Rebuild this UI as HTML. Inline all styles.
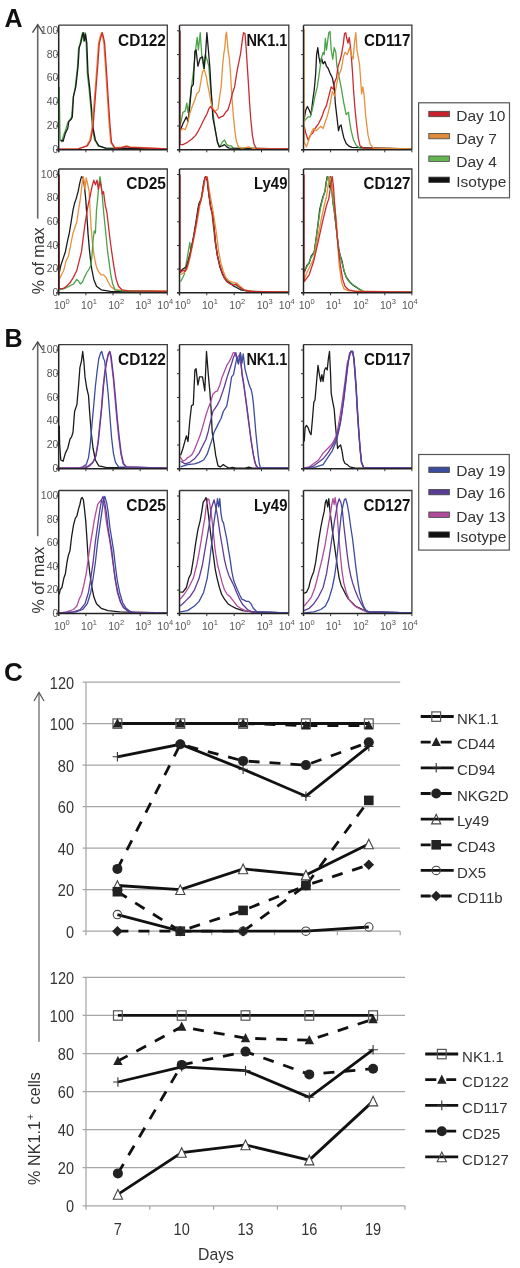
<!DOCTYPE html><html><head><meta charset="utf-8"><style>html,body{margin:0;padding:0;background:#fff}svg{display:block;filter:blur(0.4px)}text{font-family:"Liberation Sans", sans-serif}</style></head><body>
<svg width="520" height="1268" viewBox="0 0 520 1268" font-family='"Liberation Sans", sans-serif'>
<rect width="520" height="1268" fill="#fff"/>
<defs>
<clipPath id="cpA1"><rect x="58.7" y="25.2" width="108.6" height="124.6"/></clipPath>
<clipPath id="cpA2"><rect x="179.5" y="25.2" width="109.3" height="124.6"/></clipPath>
<clipPath id="cpA3"><rect x="303.5" y="25.2" width="108.4" height="124.6"/></clipPath>
<clipPath id="cpA4"><rect x="58.7" y="169" width="108.6" height="123.8"/></clipPath>
<clipPath id="cpA5"><rect x="179.5" y="169" width="109.3" height="123.8"/></clipPath>
<clipPath id="cpA6"><rect x="303.5" y="169" width="108.4" height="123.8"/></clipPath>
<clipPath id="cpB1"><rect x="58.7" y="344.6" width="108.6" height="124.1"/></clipPath>
<clipPath id="cpB2"><rect x="179.5" y="344.6" width="109.3" height="124.1"/></clipPath>
<clipPath id="cpB3"><rect x="303.5" y="344.6" width="108.4" height="124.1"/></clipPath>
<clipPath id="cpB4"><rect x="58.7" y="490.5" width="108.6" height="123.1"/></clipPath>
<clipPath id="cpB5"><rect x="179.5" y="490.5" width="109.3" height="123.1"/></clipPath>
<clipPath id="cpB6"><rect x="303.5" y="490.5" width="108.4" height="123.1"/></clipPath>
</defs>
<text x="4.5" y="26.8" font-weight="bold" font-size="25" fill="#111">A</text>
<path d="M37.7 24.6V218.6" stroke="#666" stroke-width="1.6"/>
<path d="M32.5 32.6L37.7 24.6L42.9 32.6" fill="none" stroke="#444" stroke-width="1.3"/>
<text transform="translate(44.3 260.8) rotate(-90)" text-anchor="middle" font-size="16" fill="#333">% of max</text>
<g clip-path="url(#cpA1)" fill="none" stroke-width="1.3" stroke-linejoin="round">
<polyline stroke="#4aa348" points="59.3,86.9 59.3,96.2 60.1,140 61.9,141.8 63.5,135.4 65.8,129.6 67.7,122.7 70,119.7 71.6,116.9 73.2,97.3 75.1,88.1 77.4,67.3 78.5,48.8 80.2,43.1 81.5,36.6 82.5,32.7 83.6,41.2 85,32.7 86.2,43.1 87.3,73.5 88.9,87.4 90.8,107.7 92.4,128.5 94.7,140 98.2,145.8 105.1,148.1 167.3,148.8"/>
<polyline stroke="#1a1a1a" points="60.8,140 63.1,141.2 65.4,133.1 67.7,128.5 68.8,121.5 71.2,119.2 72.3,116.9 73.5,96.2 75.8,86.9 78.1,66.2 79.2,47.7 80.8,43.1 82.2,36.2 83.2,32.7 84.5,40.8 85.5,33.8 86.8,43.1 88,73.1 89.6,86.9 91.5,107.7 93.1,128.5 95.4,140 98.8,145.8 105.8,148.1 167.3,148.8"/>
<polyline stroke="#e8903c" points="59.3,149.2 78.1,148.8 86.3,146 89.7,140.5 92.3,126.6 94.6,96.6 96.9,66.6 98.5,43.5 100.3,36.2 101.5,32.7 102.7,37.3 103.8,43.1 105.4,66.2 107.3,96.2 109.1,123.8 110.7,142.3 114,147.6 121.3,147.2 126.5,146 130,146.9 167.3,148.8"/>
<polyline stroke="#cc2a30" points="59.3,149.2 78.1,148.8 87.3,145.8 90.8,140 93.1,126.2 95.4,96.2 97.7,66.2 99.3,43.1 101.2,36.2 102.3,32.7 103.5,37.3 104.6,43.1 106.2,66.2 108.1,96.2 109.9,123.8 111.5,142.3 115,148.1 121.9,147.6 126.5,146.5 130,147.4 167.3,148.8"/>
</g>
<path d="M58.7 25.2H167.3V149.8" fill="none" stroke="#3a3a3a" stroke-width="1.3"/>
<path d="M58.7 25.2V152.3M56.2 149.8H167.3" fill="none" stroke="#222" stroke-width="1.5"/>
<path d="M56.2 149.8H58.7M56.2 126H58.7M56.2 102.2H58.7M56.2 78.4H58.7M56.2 54.6H58.7M56.2 30.8H58.7M58.7 149.8V152.3M85.9 149.8V152.3M113 149.8V152.3M140.2 149.8V152.3M167.3 149.8V152.3" stroke="#333" stroke-width="1"/>
<text x="165.9" y="45.6" text-anchor="end" font-weight="bold" font-size="16" textLength="47.8" lengthAdjust="spacingAndGlyphs" fill="#111">CD122</text>
<text x="58.4" y="152.8" text-anchor="end" font-size="10.5" fill="#555">0</text>
<text x="58.4" y="129" text-anchor="end" font-size="10.5" fill="#555">20</text>
<text x="58.4" y="105.2" text-anchor="end" font-size="10.5" fill="#555">40</text>
<text x="58.4" y="81.4" text-anchor="end" font-size="10.5" fill="#555">60</text>
<text x="58.4" y="57.6" text-anchor="end" font-size="10.5" fill="#555">80</text>
<text x="58.4" y="33.8" text-anchor="end" font-size="10.5" fill="#555">100</text>
<g clip-path="url(#cpA2)" fill="none" stroke-width="1.3" stroke-linejoin="round">
<polyline stroke="#4aa348" points="180.2,121.5 180.6,123.8 182.9,112.3 185.2,111.2 186.8,103.1 188,112.3 189.8,100.8 191.5,86.9 193.8,68.5 195.6,50 197.2,37.3 198.4,50 200.2,32.7 201.8,55.8 203.7,68.5 205.3,54.6 206.9,59.2 208.8,66.2 210.6,89.2 212.9,112.3 215.2,129.6 217.5,142.3 219.8,146.9 222.2,142.3 224.5,140 226.8,144.6 229.1,145.8 231.2,145.8 233.5,148.1 288.4,148.8"/>
<polyline stroke="#1a1a1a" points="180.6,129.6 182.9,123.8 186.4,116.9 188,121.5 189.8,106.5 191.5,86.9 193.3,84.6 194.9,51.2 196.1,50 197.9,66.2 200.2,58.1 202.5,56.9 204.2,68.5 205.5,54.6 206.9,32.7 208.3,48.8 209.9,68.5 211.1,89.2 212.9,118.1 215.2,129.6 217.5,142.3 219.2,146.9 222.2,145.8 224.5,144.6 226.8,146.9 229.1,148.1 288.4,148.8"/>
<polyline stroke="#e8903c" points="180.2,130.8 182.9,128.5 185.2,129.6 187.5,123.8 189.8,113.5 192.2,106.5 194.5,100.8 196.8,93.8 199.1,91.5 200.7,82.3 202.5,71.9 204.2,69.6 206,75.4 207.6,84.6 209.5,93.8 211.1,103.1 212.9,108.8 215.2,111.2 218,109.1 219.6,96.8 221.2,86.5 222.6,65.9 223.8,53.7 224.7,48.6 225.8,35.2 226.5,32.2 227.2,40.3 228.2,51.6 229.3,57.8 230.5,73.1 231.4,88.5 232.5,104.9 233.5,117.4 235.1,132.6 236.5,141.8 238.5,146.9 241.5,148.1 245.2,147.6 248.5,146.9 253.1,148.5 288.4,148.8"/>
<polyline stroke="#cc2a30" points="180.1,30.4 180.1,144.6 180.6,144.6 182.9,144.6 187.5,142.3 192.2,138.8 195.6,135.4 198.4,130.8 200.7,126.2 203,121.5 205.3,116.9 207.2,113.5 208.8,108.8 210.6,106.5 212.2,108.8 214.1,111.2 216.4,113.5 218.7,118.1 221,116.9 223.3,115.8 225.6,112.3 227.9,110 230,103.1 232.3,93.8 234.6,86.9 236.9,71.9 238.5,63.8 240.4,54.6 241.5,46.5 242.7,37.3 243.6,32.7 245,33.8 246.2,48.8 247.3,66.2 248.5,84.6 249.6,103.1 250.8,119.2 252.4,135.4 254.2,144.6 256.5,148.8 288.4,148.8"/>
</g>
<path d="M179.5 25.2H288.8V149.8" fill="none" stroke="#3a3a3a" stroke-width="1.3"/>
<path d="M179.5 25.2V152.3M177 149.8H288.8" fill="none" stroke="#222" stroke-width="1.5"/>
<path d="M177 149.8H179.5M177 126H179.5M177 102.2H179.5M177 78.4H179.5M177 54.6H179.5M177 30.8H179.5M179.5 149.8V152.3M206.8 149.8V152.3M234.2 149.8V152.3M261.5 149.8V152.3M288.8 149.8V152.3" stroke="#333" stroke-width="1"/>
<text x="287.4" y="45.6" text-anchor="end" font-weight="bold" font-size="16" textLength="41" lengthAdjust="spacingAndGlyphs" fill="#111">NK1.1</text>
<g clip-path="url(#cpA3)" fill="none" stroke-width="1.3" stroke-linejoin="round">
<polyline stroke="#1a1a1a" points="304.2,119.2 305.8,110 307.4,106.5 309.2,110 311.1,114.6 312.7,100.8 314.3,89.2 315.7,73.1 316.6,54.6 317.8,47.7 318.9,56.9 320.3,63.8 321.5,58.1 323.1,63.8 324.9,61.5 326.5,66.2 328.2,68.5 330,73.1 332.3,77.7 334.2,86.9 335.3,103.1 336.9,116.9 338.5,130.8 339.7,126.2 341.1,125 342.2,130.8 343.8,137.7 346.2,143.5 348.5,145.8 351.9,147.4 411.9,148.8"/>
<polyline stroke="#4aa348" points="304.2,121.5 305.8,119.2 308.1,116.9 310.4,116.9 312.7,107.7 315,96.2 317.3,86.9 319.6,70.8 321.2,59.2 323.1,52.3 324.2,54.6 325.4,38.5 326.5,50 327.7,40.8 328.8,32.7 330,31.5 331.2,50 332.8,59.2 334.2,47.7 335.8,52.3 336.9,66.2 339.2,77.7 341.5,89.2 343.8,103.1 346.2,114.6 348.5,112.3 349.6,121.5 351.2,130.8 353.5,140 356.5,145.8 360,148.1 411.9,148.8"/>
<polyline stroke="#cc2a30" points="304.2,126.2 305.8,133.1 308.1,140 310.4,135.4 312.7,133.1 315,128.5 318.5,123.8 321.9,116.9 324.2,110 326.5,105.4 328.8,96.2 331.2,86.9 333.5,89.2 334.6,82.3 336.5,77.7 338.1,66.2 339.7,61.5 341.5,54.6 343.4,43.1 344.5,33.8 345.7,32.7 346.8,38.5 348,43.1 349.2,37.3 350.3,45.4 351.2,54.6 352.4,70.8 353.5,89.2 354.9,107.7 356.5,123.8 358.2,137.7 360,145.8 363.5,148.1 411.9,148.8"/>
<polyline stroke="#e8903c" points="304.1,29.2 304.1,142.3 304.2,142.3 306.5,146.9 308.8,140 311.1,133.1 313.4,128.5 316.2,130.8 318.5,128.5 320.8,126.2 323.1,128.5 325.4,121.5 327.7,114.6 330,105.4 332.3,91.5 334.6,96.2 336.5,84.6 338.1,77.7 339.7,73.1 341.5,68.5 343.4,56.9 345,52.3 347.3,54.6 349.6,47.7 351.2,54.6 353.1,59.2 354.7,40.8 355.8,32.7 357,50 358.2,56.9 359.5,63.8 360.5,77.7 361.6,93.8 362.8,86.9 364.2,96.2 365.8,116.9 368.1,135.4 370.4,144.6 373.8,148.1 411.9,148.8"/>
</g>
<path d="M303.5 25.2H411.9V149.8" fill="none" stroke="#3a3a3a" stroke-width="1.3"/>
<path d="M303.5 25.2V152.3M301 149.8H411.9" fill="none" stroke="#222" stroke-width="1.5"/>
<path d="M301 149.8H303.5M301 126H303.5M301 102.2H303.5M301 78.4H303.5M301 54.6H303.5M301 30.8H303.5M303.5 149.8V152.3M330.6 149.8V152.3M357.7 149.8V152.3M384.8 149.8V152.3M411.9 149.8V152.3" stroke="#333" stroke-width="1"/>
<text x="410.5" y="45.6" text-anchor="end" font-weight="bold" font-size="16" textLength="46.4" lengthAdjust="spacingAndGlyphs" fill="#111">CD117</text>
<g clip-path="url(#cpA4)" fill="none" stroke-width="1.3" stroke-linejoin="round">
<polyline stroke="#1a1a1a" points="59.3,272.5 60.8,265.5 63.1,258.6 65.4,251.7 67.7,240.2 69.3,233.2 71.2,221.7 73,210.2 74.6,203.2 76.2,198.6 78.1,191.7 79.9,182.5 81.5,176.7 83.2,177.8 84.5,187.1 85.7,198.6 86.8,214.8 88,233.2 89.6,251.7 91.5,267.8 93.8,279.4 96.5,286.3 101.2,289.8 110.4,291.4 167.3,292.1"/>
<polyline stroke="#e8903c" points="59.3,279.4 61.5,274.8 63.8,270.2 66.1,260.9 68.4,256.3 70.7,244.8 73,233.2 75.3,226.3 76.9,221.7 78.5,210.2 80.4,198.6 82.2,182.5 83.4,176.7 85,189.4 86.2,177.8 87.3,182.5 89.2,191.7 90.1,210.2 91.2,228.6 92.4,242.5 94.2,256.3 96.1,265.5 97.7,270.2 99.3,272.5 101.2,274.8 103.5,274.8 105.8,277.1 108.1,281.7 110.4,286.3 115,289.8 124.2,290.5 167.3,290.9"/>
<polyline stroke="#4aa348" points="59.3,289.8 64.2,288.6 68.8,286.3 73.5,284 76.9,279.4 78.8,281.7 80.4,284 82.7,281.7 84.5,277.1 86.8,272.5 89.2,269 90.8,265.5 91.9,256.3 93.1,240.2 94.2,230.9 95.4,233.2 96.5,210.2 97.7,198.6 98.8,184.8 100,176.7 101.2,184.8 102.3,196.3 103.9,214.8 105.8,233.2 107.6,251.7 109.2,263.2 110.8,274.8 112.7,284 115,289.8 121.9,290.9 167.3,291.6"/>
<polyline stroke="#cc2a30" points="59.3,174.4 59.3,288.6 59.3,288.6 63.1,288.6 66.5,286.3 70,282.8 73.5,277.1 76.9,270.2 79.2,260.9 81.5,251.7 83.2,237.8 85,224 86.8,212.5 88.5,203.2 90.1,196.3 91.9,187.1 93.8,180.2 95.4,184.8 97,180.2 98.4,189.4 100,181.3 101.2,187.1 102.3,194 103.5,191.7 105.3,205.5 106.9,212.5 108.5,226.3 110.4,242.5 112.7,258.6 114.5,270.2 116.2,279.4 118.5,286.3 121.9,289.8 128.8,290.9 167.3,291.4"/>
</g>
<path d="M58.7 169H167.3V292.8" fill="none" stroke="#3a3a3a" stroke-width="1.3"/>
<path d="M58.7 169V295.3M56.2 292.8H167.3" fill="none" stroke="#222" stroke-width="1.5"/>
<path d="M56.2 292.8H58.7M56.2 269.1H58.7M56.2 245.5H58.7M56.2 221.8H58.7M56.2 198.2H58.7M56.2 174.5H58.7M58.7 292.8V295.3M85.9 292.8V295.3M113 292.8V295.3M140.2 292.8V295.3M167.3 292.8V295.3" stroke="#333" stroke-width="1"/>
<text x="165.9" y="189.4" text-anchor="end" font-weight="bold" font-size="16" textLength="39.6" lengthAdjust="spacingAndGlyphs" fill="#111">CD25</text>
<text x="58.4" y="295.8" text-anchor="end" font-size="10.5" fill="#555">0</text>
<text x="58.4" y="272.1" text-anchor="end" font-size="10.5" fill="#555">20</text>
<text x="58.4" y="248.5" text-anchor="end" font-size="10.5" fill="#555">40</text>
<text x="58.4" y="224.8" text-anchor="end" font-size="10.5" fill="#555">60</text>
<text x="58.4" y="201.2" text-anchor="end" font-size="10.5" fill="#555">80</text>
<text x="58.4" y="177.5" text-anchor="end" font-size="10.5" fill="#555">100</text>
<text x="53.9" y="308.9" font-size="10.5" fill="#555">10<tspan font-size="7.5" dy="-4.8">0</tspan></text>
<text x="81.1" y="308.9" font-size="10.5" fill="#555">10<tspan font-size="7.5" dy="-4.8">1</tspan></text>
<text x="108.2" y="308.9" font-size="10.5" fill="#555">10<tspan font-size="7.5" dy="-4.8">2</tspan></text>
<text x="135.3" y="308.9" font-size="10.5" fill="#555">10<tspan font-size="7.5" dy="-4.8">3</tspan></text>
<text x="157.3" y="308.9" font-size="10.5" fill="#555">10<tspan font-size="7.5" dy="-4.8">4</tspan></text>
<g clip-path="url(#cpA5)" fill="none" stroke-width="1.3" stroke-linejoin="round">
<polyline stroke="#4aa348" points="180.6,281.7 184.1,274.8 187.5,256.3 189.8,242.5 191,251.7 192.6,242.5 194.5,233.2 196.8,219.4 199.1,204.4 200.9,199.8 202.5,192.8 204.2,182.5 205.5,176.7 207.2,178.3 208.3,189.4 209.9,200.9 211.8,212.5 213.6,228.6 215.2,242.5 217.1,254 219.4,263.2 221.7,271.3 224.5,277.1 227.2,280.5 231.4,283.5 234.8,284.5 238.3,286.8 242.9,289.8 252.2,291.4 288.4,292.1"/>
<polyline stroke="#1a1a1a" points="180.6,271.3 182.9,269 186.4,266.7 188.7,258.6 191,249.4 193.3,237.8 195.6,224 197.9,209 199.1,203.2 201.4,198.6 203.7,182.5 205.5,176.7 207.2,180.2 208.8,194 210.6,206.7 212.5,213.6 214.1,227.5 215.7,243.6 217.5,255.8 219.8,266.7 222.2,273.6 224.5,278.2 226.8,281.2 230.2,283.5 233.2,285.8 236.5,287.5 240.6,289.8 249.8,291.4 288.4,292.1"/>
<polyline stroke="#e8903c" points="180.6,274.8 184.1,272.5 187.1,269 189.8,258.6 192.6,244.8 194.9,233.2 197.2,221.7 199.1,210.2 200.2,203.2 202.5,194 204.8,180.2 207.2,176.7 209.5,191.7 212.9,210.2 216.4,233.2 218.7,251.7 221,263.2 223.3,271.3 225.6,277.1 228.6,280.5 232.5,282.2 236.5,282.8 239.5,285.8 244.1,289.8 252.2,291.4 288.4,292.1"/>
<polyline stroke="#cc2a30" points="180.1,174.4 180.1,270.2 180.6,272.5 182.9,270.2 185.2,271.3 187.5,265.5 189.8,256.3 192.2,244.8 194.5,233.2 196.8,219.4 199.1,205.5 200.9,200.9 202.5,191.7 203.7,184.8 204.8,177.8 206,176.7 207.2,177.8 208.3,189.4 209.5,198.6 210.6,207.8 212.5,214.8 214.1,228.6 215.7,244.8 217.5,256.3 219.8,265.5 222.2,272.5 224.5,278.2 226.8,281.7 230.2,284 233.7,285.2 236,284 238.3,286.3 241.8,288.6 245.2,290.5 252.2,291.4 288.4,292.1"/>
</g>
<path d="M179.5 169H288.8V292.8" fill="none" stroke="#3a3a3a" stroke-width="1.3"/>
<path d="M179.5 169V295.3M177 292.8H288.8" fill="none" stroke="#222" stroke-width="1.5"/>
<path d="M177 292.8H179.5M177 269.1H179.5M177 245.5H179.5M177 221.8H179.5M177 198.2H179.5M177 174.5H179.5M179.5 292.8V295.3M206.8 292.8V295.3M234.2 292.8V295.3M261.5 292.8V295.3M288.8 292.8V295.3" stroke="#333" stroke-width="1"/>
<text x="287.4" y="189.4" text-anchor="end" font-weight="bold" font-size="16" textLength="33.3" lengthAdjust="spacingAndGlyphs" fill="#111">Ly49</text>
<text x="174.7" y="308.9" font-size="10.5" fill="#555">10<tspan font-size="7.5" dy="-4.8">0</tspan></text>
<text x="202" y="308.9" font-size="10.5" fill="#555">10<tspan font-size="7.5" dy="-4.8">1</tspan></text>
<text x="229.3" y="308.9" font-size="10.5" fill="#555">10<tspan font-size="7.5" dy="-4.8">2</tspan></text>
<text x="256.7" y="308.9" font-size="10.5" fill="#555">10<tspan font-size="7.5" dy="-4.8">3</tspan></text>
<text x="278.8" y="308.9" font-size="10.5" fill="#555">10<tspan font-size="7.5" dy="-4.8">4</tspan></text>
<g clip-path="url(#cpA6)" fill="none" stroke-width="1.3" stroke-linejoin="round">
<polyline stroke="#1a1a1a" points="304.2,272.5 306.9,265.5 309.2,263.2 311.1,256.3 312.7,254 314.3,251.7 316.2,237.8 318,224 319.6,210.2 321.2,203.2 323.1,196.3 324.9,191.7 326.1,182.5 327.2,176.7 328.4,177.8 329.5,187.1 330.7,176.7 331.8,187.1 332.8,200.9 334.2,210.2 335.8,224 337.4,237.8 338.8,249.4 340.4,256.3 342,260.9 343.8,270.2 346.2,277.1 349.6,281.7 353.1,285.2 356.5,287.5 360,289.8 363.5,291.4 411.9,292.1"/>
<polyline stroke="#4aa348" points="304.2,270.2 306.9,266.7 309.2,262.1 311.1,257.5 312.9,255.2 314.8,249.4 316.6,235.5 318.5,221.7 320.3,209 321.9,202.1 323.8,195.2 325.4,189.4 326.8,180.2 327.9,176.7 329.3,184.8 330.5,177.8 331.6,189.4 333,203.2 334.6,213.6 336.2,227.5 337.8,241.3 339.2,251.7 340.8,258.6 342.7,265.5 345,273.6 347.3,279.4 350.8,283.5 355.4,286.3 359.5,289.1 363.5,291.4 411.9,292.1"/>
<polyline stroke="#e8903c" points="304.2,279.4 306.9,272.5 310.4,265.5 313.8,258.6 317.3,240.2 320.8,221.7 324.2,205.5 326.5,196.3 328.2,184.8 329.5,176.7 331.2,180.2 332.8,191.7 334.6,205.5 336.5,221.7 337.6,242.5 339.2,265.5 341.5,281.7 343.8,288.6 348.5,290.9 411.9,292.1"/>
<polyline stroke="#cc2a30" points="304.1,174.4 304.1,281.7 304.2,281.7 309.2,274.8 313.8,260.9 318.5,240.2 323.1,219.4 326.5,205.5 328.8,198.6 331.2,182.5 332.3,176.7 333.5,187.1 334.6,203.2 336.5,228.6 338.1,247.1 340.4,265.5 342.7,279.4 345,286.3 348.5,289.8 355.4,291.4 411.9,292.1"/>
</g>
<path d="M303.5 169H411.9V292.8" fill="none" stroke="#3a3a3a" stroke-width="1.3"/>
<path d="M303.5 169V295.3M301 292.8H411.9" fill="none" stroke="#222" stroke-width="1.5"/>
<path d="M301 292.8H303.5M301 269.1H303.5M301 245.5H303.5M301 221.8H303.5M301 198.2H303.5M301 174.5H303.5M303.5 292.8V295.3M330.6 292.8V295.3M357.7 292.8V295.3M384.8 292.8V295.3M411.9 292.8V295.3" stroke="#333" stroke-width="1"/>
<text x="410.5" y="189.4" text-anchor="end" font-weight="bold" font-size="16" textLength="47" lengthAdjust="spacingAndGlyphs" fill="#111">CD127</text>
<text x="298.7" y="308.9" font-size="10.5" fill="#555">10<tspan font-size="7.5" dy="-4.8">0</tspan></text>
<text x="325.8" y="308.9" font-size="10.5" fill="#555">10<tspan font-size="7.5" dy="-4.8">1</tspan></text>
<text x="352.9" y="308.9" font-size="10.5" fill="#555">10<tspan font-size="7.5" dy="-4.8">2</tspan></text>
<text x="380" y="308.9" font-size="10.5" fill="#555">10<tspan font-size="7.5" dy="-4.8">3</tspan></text>
<text x="401.9" y="308.9" font-size="10.5" fill="#555">10<tspan font-size="7.5" dy="-4.8">4</tspan></text>
<rect x="418.6" y="102.8" width="90.9" height="95" fill="#fff" stroke="#555" stroke-width="1.2"/>
<rect x="428.8" y="111.3" width="20.6" height="5.4" fill="#c8222c" stroke="#444" stroke-width="0.8"/>
<text x="456.3" y="121.1" font-size="15.5" fill="#333">Day 10</text>
<rect x="428.8" y="133.4" width="20.6" height="5.4" fill="#e08a3c" stroke="#444" stroke-width="0.8"/>
<text x="456.3" y="143.6" font-size="15.5" fill="#333">Day 7</text>
<rect x="428.8" y="156" width="20.6" height="5.4" fill="#64b450" stroke="#444" stroke-width="0.8"/>
<text x="456.3" y="166.6" font-size="15.5" fill="#333">Day 4</text>
<rect x="428.8" y="177.1" width="20.6" height="5.4" fill="#111" stroke="#444" stroke-width="0.8"/>
<text x="456.3" y="186.9" font-size="15.5" fill="#333">Isotype</text>
<text x="4.5" y="347.4" font-weight="bold" font-size="25" fill="#111">B</text>
<path d="M37.7 342V536.2" stroke="#666" stroke-width="1.6"/>
<path d="M32.5 350L37.7 342L42.9 350" fill="none" stroke="#444" stroke-width="1.3"/>
<text transform="translate(44.3 580.2) rotate(-90)" text-anchor="middle" font-size="16" fill="#333">% of max</text>
<g clip-path="url(#cpB1)" fill="none" stroke-width="1.3" stroke-linejoin="round">
<polyline stroke="#1a1a1a" points="59.3,425.4 59.6,443.8 60.8,460 63.1,461.2 65.4,453.1 67.7,448.5 70,439.2 71.6,436.9 73,432.3 74.6,411.5 76.9,404.6 78.5,386.2 79.9,367.7 81.5,360.8 82.7,351.5 83.8,360.8 85,376.9 86.8,388.5 88.5,395.4 89.6,411.5 91.2,432.3 93.1,448.5 95.4,460 98.8,465.8 105.8,467.4 167.3,468.1"/>
<polyline stroke="#3c4c9e" points="59.3,468.1 78.1,468.1 82.7,466.9 86.2,464.6 88.5,457.7 90.1,446.2 91.9,425.4 93.8,404.6 95.4,386.2 97,372.3 98.8,358.5 100.7,352.7 101.8,351.5 103.5,358.5 104.6,360.8 106.2,374.6 108.1,393.1 109.9,416.2 111.5,436.9 113.4,453.1 115.5,462.3 118.5,466.9 167.3,468.1"/>
<polyline stroke="#b04c9c" points="59.3,468.1 82.7,467.6 88.5,465.8 92.4,462.8 95.6,456.5 97.9,442.7 99.5,426.5 101.4,408.1 103,387.3 104.8,371.2 106.5,361.9 108.1,354.3 109.5,351.5 110.6,356.6 111.8,365.8 113.4,379.7 115,398.2 116.8,418.9 118.7,437.4 120.8,453.5 123.1,463.9 126.1,467.2 167.3,468.1"/>
<polyline stroke="#5e3c98" points="59.3,468.1 85,468.1 89.6,465.8 93.1,462.3 96.1,455.4 98.4,441.5 100,425.4 101.8,406.9 103.5,386.2 105.3,370 106.9,360.8 108.5,353.8 109.9,351.5 111.1,356.2 112.2,365.4 113.8,379.2 115.5,397.7 117.3,418.5 119.2,436.9 121.2,453.1 123.5,463.5 126.5,466.9 167.3,468.1"/>
</g>
<path d="M58.7 344.6H167.3V468.7" fill="none" stroke="#3a3a3a" stroke-width="1.3"/>
<path d="M58.7 344.6V471.2M56.2 468.7H167.3" fill="none" stroke="#222" stroke-width="1.5"/>
<path d="M56.2 468.7H58.7M56.2 445H58.7M56.2 421.2H58.7M56.2 397.5H58.7M56.2 373.7H58.7M56.2 350H58.7M58.7 468.7V471.2M85.9 468.7V471.2M113 468.7V471.2M140.2 468.7V471.2M167.3 468.7V471.2" stroke="#333" stroke-width="1"/>
<text x="165.9" y="365" text-anchor="end" font-weight="bold" font-size="16" textLength="47.8" lengthAdjust="spacingAndGlyphs" fill="#111">CD122</text>
<text x="58.4" y="471.7" text-anchor="end" font-size="10.5" fill="#555">0</text>
<text x="58.4" y="448" text-anchor="end" font-size="10.5" fill="#555">20</text>
<text x="58.4" y="424.2" text-anchor="end" font-size="10.5" fill="#555">40</text>
<text x="58.4" y="400.5" text-anchor="end" font-size="10.5" fill="#555">60</text>
<text x="58.4" y="376.7" text-anchor="end" font-size="10.5" fill="#555">80</text>
<text x="58.4" y="353" text-anchor="end" font-size="10.5" fill="#555">100</text>
<g clip-path="url(#cpB2)" fill="none" stroke-width="1.3" stroke-linejoin="round">
<polyline stroke="#1a1a1a" points="180.6,455.4 182.9,448.5 186.4,435.8 188,441.5 189.8,420.8 191.5,405.8 193.3,404.6 194.9,370 196.1,368.8 197.9,385 199.5,376.9 202.5,376.9 204.8,390.8 206.5,351.5 208.3,374.6 209.9,391.9 211.1,409.2 212.2,432.3 214.1,443.8 215.7,455.4 218,465.8 220.3,466.9 223.3,464.6 225.6,466.2 229.1,468.1 232.5,467.4 236,468.1 245.2,468.1 248.9,467.2 252.2,468.1 288.4,468.1"/>
<polyline stroke="#b04c9c" points="180.2,456.5 180.6,457.7 182.9,461.2 185.2,460 187.5,457.7 189.8,456.5 192.2,454.2 194.5,449.6 196.8,443.8 199.1,438.1 201.4,431.2 203.7,423.1 206,415 208.3,408.1 210.6,402.3 212.9,394.2 215.2,391.9 217.5,390.8 219.8,385 222.2,376.9 224.5,371.2 226.8,365.4 229.1,361.9 231.4,357.3 233.2,352.7 234.6,352.7 236.9,358.5 239.2,355 241.5,368.8 243.8,383.8 246.2,403.5 248.5,420.8 250.8,438.1 253.1,453.1 254.7,462.3 256.5,466.9 258.8,468.1 288.4,468.1"/>
<polyline stroke="#5e3c98" points="180.6,461.2 185.2,463.9 189.8,462.3 194.5,458.8 199.1,453.1 202.5,446.2 206,439.2 208.3,431.2 210.6,420.8 212.9,411.5 215.2,408.1 217.5,404.6 219.8,400 222.2,393.1 224.5,386.2 226.8,378.1 229.1,371.2 231.4,364.2 233.5,357.3 235.8,352.7 238.1,363.1 240.4,352.7 242,374.6 244.3,388.5 246.6,404.6 248.9,423.1 251.2,441.5 253.5,455.4 255.8,464.6 258.2,468.1 288.4,468.1"/>
<polyline stroke="#3c4c9e" points="180.6,466.9 187.5,464.6 194.5,463.9 199.1,462.3 203.7,460 207.2,454.2 209.5,447.3 211.8,440.4 214.1,432.3 217.5,425.4 221,418.5 223.3,411.5 226.8,405.8 229.1,393.1 231.6,376.9 233.5,374.6 235.1,366.5 236.9,357.3 238.5,364.2 240.4,352.7 242,363.1 243.2,353.8 245,368.8 247.3,378.1 248.9,383.8 250.1,387.3 251.2,389.6 252.4,395.4 253.5,404.6 254.7,418.5 255.8,432.3 257,443.8 258.2,455.4 259.3,463.5 260.5,468.1 288.4,468.1"/>
</g>
<path d="M179.5 344.6H288.8V468.7" fill="none" stroke="#3a3a3a" stroke-width="1.3"/>
<path d="M179.5 344.6V471.2M177 468.7H288.8" fill="none" stroke="#222" stroke-width="1.5"/>
<path d="M177 468.7H179.5M177 445H179.5M177 421.2H179.5M177 397.5H179.5M177 373.7H179.5M177 350H179.5M179.5 468.7V471.2M206.8 468.7V471.2M234.2 468.7V471.2M261.5 468.7V471.2M288.8 468.7V471.2" stroke="#333" stroke-width="1"/>
<text x="287.4" y="365" text-anchor="end" font-weight="bold" font-size="16" textLength="41" lengthAdjust="spacingAndGlyphs" fill="#111">NK1.1</text>
<g clip-path="url(#cpB3)" fill="none" stroke-width="1.3" stroke-linejoin="round">
<polyline stroke="#1a1a1a" points="304.2,441.5 305.1,427.7 306.5,425.4 308.1,427.7 309.7,432.3 311.1,434.6 312.7,416.2 313.8,402.3 315,400 316.6,381.5 318,365.4 319.4,374.6 320.8,381.5 321.9,374.6 323.1,381.5 324.5,370 325.8,367.7 327.2,370 328.4,358.5 329.5,351.5 330.5,372.3 331.2,393.1 332.8,402.3 334.2,409.2 335.3,423.1 336.5,436.9 337.6,448.5 339.2,446.2 340.6,445 342,450.8 343.4,460 345,463.5 347.3,464.6 349.6,466.9 355.4,468.1 411.9,468.1"/>
<polyline stroke="#b04c9c" points="304.2,468.1 309.2,466.9 313.8,463.5 318.5,460 323.1,453.1 327.7,448.5 332.3,443.8 336.9,434.6 341.5,406.9 345,381.5 347.3,363.1 349.6,356.2 351.2,351.5 352.6,352.7 353.8,358.5 354.9,372.3 356.1,388.5 357.2,409.2 358.6,430 360,448.5 361.4,462.3 363.5,467.4 411.9,468.1"/>
<polyline stroke="#3c4c9e" points="304.2,468.1 313.8,467.6 323.1,464.6 327.7,457.7 332.3,450.8 336.9,439.2 340.4,423.1 343.8,397.7 347.3,367.7 349.6,353.8 351.2,351.1 352.8,351.5 354,358.5 355.2,372.3 356.3,388.5 357.5,409.2 358.8,430 360.2,448.5 361.6,462.3 363.7,467.4 411.9,468.1"/>
<polyline stroke="#5e3c98" points="304.2,468.1 309.2,467.6 313.8,465.8 318.5,462.3 323.1,458.8 327.7,453.1 332.3,446.2 335.8,439.2 339.2,427.7 341.5,416.2 343.8,400 345.7,383.8 347.3,370 348.5,360.8 349.6,353.8 350.8,351.5 352.6,351.5 353.8,358.5 354.9,372.3 356.1,388.5 357.2,409.2 358.6,430 360,448.5 361.4,462.3 363.5,467.4 411.9,468.1"/>
</g>
<path d="M303.5 344.6H411.9V468.7" fill="none" stroke="#3a3a3a" stroke-width="1.3"/>
<path d="M303.5 344.6V471.2M301 468.7H411.9" fill="none" stroke="#222" stroke-width="1.5"/>
<path d="M301 468.7H303.5M301 445H303.5M301 421.2H303.5M301 397.5H303.5M301 373.7H303.5M301 350H303.5M303.5 468.7V471.2M330.6 468.7V471.2M357.7 468.7V471.2M384.8 468.7V471.2M411.9 468.7V471.2" stroke="#333" stroke-width="1"/>
<text x="410.5" y="365" text-anchor="end" font-weight="bold" font-size="16" textLength="46.4" lengthAdjust="spacingAndGlyphs" fill="#111">CD117</text>
<g clip-path="url(#cpB4)" fill="none" stroke-width="1.3" stroke-linejoin="round">
<polyline stroke="#1a1a1a" points="59.3,594.5 60.1,589.8 61.9,587.5 63.8,578.3 65.4,573.7 67,562.2 68.4,555.2 70,550.6 71.6,536.8 73.5,525.2 75.3,518.3 76.9,516 78.5,509.1 79.9,504.5 81.1,498.7 82.2,497.5 83.4,499.8 84.5,509.1 85.7,520.6 86.8,536.8 88,555.2 89.6,571.4 91.5,585.2 93.8,596.8 96.5,603.7 101.2,608.3 108.1,610.6 119.6,611.8 167.3,612.9"/>
<polyline stroke="#b04c9c" points="59.3,612.9 66.5,611.8 73.5,609.5 76.9,606 79.2,599.1 81.5,594.5 83.8,585.2 86.2,573.7 88.5,557.5 90.8,541.4 92.4,532.2 94.2,520.6 96.1,511.4 97.7,504.5 99.3,502.2 101.2,499.8 102.8,502.2 104.6,506.8 106.2,520.6 108.1,532.2 109.9,541.4 111.5,552.9 113.2,564.5 115,578.3 117.3,592.2 120.1,601.4 123.1,607.2 127.7,610.6 133.5,612.5 167.3,612.9"/>
<polyline stroke="#3c4c9e" points="59.3,613.2 75.8,611.8 82.7,609.5 87.3,603.7 90.8,592.2 93.1,578.3 95.4,562.2 97.7,541.4 100,525.2 102.3,509.1 103.5,499.8 104.8,496.4 106.5,502.2 108.1,511.4 109.9,527.5 111.8,539.1 113.6,550.6 115.5,566.8 117.3,580.6 119.6,592.2 122.6,602.5 126.1,608.3 130.7,611.8 135.3,612.9 167.3,613.2"/>
<polyline stroke="#5e3c98" points="59.3,613.2 73.5,611.8 80.4,609.5 85,603.7 88.5,592.2 90.8,578.3 93.1,562.2 95.4,541.4 97.7,525.2 100,509.1 101.6,499.8 103,496.4 104.6,502.2 106.2,511.4 108.1,527.5 109.9,539.1 111.8,550.6 113.6,566.8 115.5,580.6 117.8,592.2 120.8,602.5 124.2,608.3 128.8,611.8 133.5,612.9 167.3,613.2"/>
</g>
<path d="M58.7 490.5H167.3V613.6" fill="none" stroke="#3a3a3a" stroke-width="1.3"/>
<path d="M58.7 490.5V616.1M56.2 613.6H167.3" fill="none" stroke="#222" stroke-width="1.5"/>
<path d="M56.2 613.6H58.7M56.2 590.1H58.7M56.2 566.6H58.7M56.2 543H58.7M56.2 519.5H58.7M56.2 496H58.7M58.7 613.6V616.1M85.9 613.6V616.1M113 613.6V616.1M140.2 613.6V616.1M167.3 613.6V616.1" stroke="#333" stroke-width="1"/>
<text x="165.9" y="510.9" text-anchor="end" font-weight="bold" font-size="16" textLength="39.6" lengthAdjust="spacingAndGlyphs" fill="#111">CD25</text>
<text x="58.4" y="616.6" text-anchor="end" font-size="10.5" fill="#555">0</text>
<text x="58.4" y="593.1" text-anchor="end" font-size="10.5" fill="#555">20</text>
<text x="58.4" y="569.6" text-anchor="end" font-size="10.5" fill="#555">40</text>
<text x="58.4" y="546" text-anchor="end" font-size="10.5" fill="#555">60</text>
<text x="58.4" y="522.5" text-anchor="end" font-size="10.5" fill="#555">80</text>
<text x="58.4" y="499" text-anchor="end" font-size="10.5" fill="#555">100</text>
<text x="53.9" y="629.7" font-size="10.5" fill="#555">10<tspan font-size="7.5" dy="-4.8">0</tspan></text>
<text x="81.1" y="629.7" font-size="10.5" fill="#555">10<tspan font-size="7.5" dy="-4.8">1</tspan></text>
<text x="108.2" y="629.7" font-size="10.5" fill="#555">10<tspan font-size="7.5" dy="-4.8">2</tspan></text>
<text x="135.3" y="629.7" font-size="10.5" fill="#555">10<tspan font-size="7.5" dy="-4.8">3</tspan></text>
<text x="157.3" y="629.7" font-size="10.5" fill="#555">10<tspan font-size="7.5" dy="-4.8">4</tspan></text>
<g clip-path="url(#cpB5)" fill="none" stroke-width="1.3" stroke-linejoin="round">
<polyline stroke="#1a1a1a" points="180.2,592.2 182.9,592.2 186.4,587.5 188.7,578.3 191,573.7 193.3,559.8 195.6,543.7 197.9,529.8 200.2,520.6 201.8,511.4 203.2,502.2 204.8,499.8 206,497.5 207.2,504.5 208.3,513.7 210.2,529.8 211.8,543.7 213.4,555.2 215.2,569.1 217.1,578.3 219.4,587.5 221.7,594.5 224.5,599.1 227.9,603.7 231.4,606 236,608.3 242.9,610.6 252.2,611.8 288.4,612.9"/>
<polyline stroke="#b04c9c" points="180.2,599.1 184.1,594.5 188.7,587.5 193.3,578.3 196.8,564.5 199.1,552.9 201.4,539.1 203.2,527.5 204.8,518.3 206.5,504.5 207.8,498.7 209,499.8 210.2,506.8 211.8,518.3 213.4,532.2 215.2,550.6 217.5,564.5 219.8,573.7 222.2,582.9 224.5,589.8 227.2,594.5 230.2,596.8 233.7,601.4 237.2,606 240.6,608.3 245.2,610.6 252.2,611.8 288.4,612.9"/>
<polyline stroke="#5e3c98" points="180.2,606 185.2,601.4 189.8,596.8 194.5,589.8 199.1,578.3 202.5,564.5 204.8,550.6 207.2,536.8 209.5,522.9 211.1,509.1 212.5,504.5 214.1,499.8 215.7,506.8 217.5,516 219.8,532.2 222.2,546 224.5,559.8 226.8,569.1 229.1,576 231.4,580.6 233.7,585.2 236.5,592.2 239.5,599.1 242.9,604.8 247.5,609.5 252.2,611.8 288.4,612.9"/>
<polyline stroke="#3c4c9e" points="180.2,611.8 187.5,610.6 194.5,606 199.1,601.4 203.7,592.2 207.2,578.3 209.5,562.2 211.1,548.3 212.5,536.8 213.6,525.2 215.2,513.7 216.4,506.8 217.5,498.7 218.7,506.8 219.8,498.7 221,513.7 222.2,520.6 223.5,522.9 224.9,529.8 226.8,539.1 228.6,550.6 230.2,559.8 231.8,571.4 233.7,580.6 235.5,585.2 237.4,589.8 239.5,594.5 241.8,599.1 244.1,600.2 246.4,601.4 248.7,601.4 251,603.7 253.3,608.3 256.8,611.8 288.4,612.9"/>
</g>
<path d="M179.5 490.5H288.8V613.6" fill="none" stroke="#3a3a3a" stroke-width="1.3"/>
<path d="M179.5 490.5V616.1M177 613.6H288.8" fill="none" stroke="#222" stroke-width="1.5"/>
<path d="M177 613.6H179.5M177 590.1H179.5M177 566.6H179.5M177 543H179.5M177 519.5H179.5M177 496H179.5M179.5 613.6V616.1M206.8 613.6V616.1M234.2 613.6V616.1M261.5 613.6V616.1M288.8 613.6V616.1" stroke="#333" stroke-width="1"/>
<text x="287.4" y="510.9" text-anchor="end" font-weight="bold" font-size="16" textLength="33.3" lengthAdjust="spacingAndGlyphs" fill="#111">Ly49</text>
<text x="174.7" y="629.7" font-size="10.5" fill="#555">10<tspan font-size="7.5" dy="-4.8">0</tspan></text>
<text x="202" y="629.7" font-size="10.5" fill="#555">10<tspan font-size="7.5" dy="-4.8">1</tspan></text>
<text x="229.3" y="629.7" font-size="10.5" fill="#555">10<tspan font-size="7.5" dy="-4.8">2</tspan></text>
<text x="256.7" y="629.7" font-size="10.5" fill="#555">10<tspan font-size="7.5" dy="-4.8">3</tspan></text>
<text x="278.8" y="629.7" font-size="10.5" fill="#555">10<tspan font-size="7.5" dy="-4.8">4</tspan></text>
<g clip-path="url(#cpB6)" fill="none" stroke-width="1.3" stroke-linejoin="round">
<polyline stroke="#1a1a1a" points="304.2,593.3 306.5,592.2 308.8,587.5 310.4,580.6 312,576 313.8,571.4 315.7,562.2 317.3,550.6 318.9,539.1 320.8,527.5 322.6,518.3 324.2,511.4 325.4,502.2 326.5,499.8 327.7,506.8 328.8,498.7 330,511.4 331.2,520.6 332.3,529.8 334.2,543.7 335.8,555.2 337.4,566.8 339.2,578.3 341.1,585.2 343.4,589.8 345.7,594.5 348.5,599.1 351.9,602.5 355.4,606 360,608.3 364.6,610.6 369.2,611.8 411.9,612.9"/>
<polyline stroke="#b04c9c" points="304.2,606 308.1,601.4 311.5,596.8 315,587.5 318.5,573.7 321.9,559.8 324.9,546 327.2,532.2 328.8,522.9 330.5,513.7 331.8,504.5 333,498.7 334.2,504.5 335.1,497.5 336.5,506.8 337.6,520.6 338.8,536.8 340.4,555.2 342,571.4 343.8,582.9 346.2,592.2 348.9,599.1 352.6,603.7 356.5,607.2 361.2,609.5 366.9,611.8 411.9,612.9"/>
<polyline stroke="#5e3c98" points="304.2,610.6 309.2,608.3 313.8,603.7 318.5,596.8 323.1,587.5 326.5,573.7 329.5,555.2 331.8,539.1 334.2,522.9 335.8,513.7 337.4,504.5 339.2,498.7 340.8,502.2 342.2,509.1 343.8,525.2 345.7,541.4 347.3,555.2 348.9,566.8 350.8,576 352.6,582.9 354.9,589.8 357.7,596.8 361.2,603.7 364.6,609.5 369.2,611.8 411.9,612.9"/>
<polyline stroke="#3c4c9e" points="304.2,612.9 313.8,611.8 320.8,609.5 325.4,606 328.8,599.1 332.3,587.5 334.6,576 336.5,562.2 338.1,546 339.7,529.8 341.1,516 342.7,506.8 344.3,499.8 345.7,498.7 347.3,504.5 348.9,513.7 350.8,527.5 352.6,539.1 354.2,552.9 355.8,566.8 357.7,580.6 359.5,592.2 361.2,599.1 363.5,606 366.9,611.8 411.9,612.9"/>
</g>
<path d="M303.5 490.5H411.9V613.6" fill="none" stroke="#3a3a3a" stroke-width="1.3"/>
<path d="M303.5 490.5V616.1M301 613.6H411.9" fill="none" stroke="#222" stroke-width="1.5"/>
<path d="M301 613.6H303.5M301 590.1H303.5M301 566.6H303.5M301 543H303.5M301 519.5H303.5M301 496H303.5M303.5 613.6V616.1M330.6 613.6V616.1M357.7 613.6V616.1M384.8 613.6V616.1M411.9 613.6V616.1" stroke="#333" stroke-width="1"/>
<text x="410.5" y="510.9" text-anchor="end" font-weight="bold" font-size="16" textLength="47" lengthAdjust="spacingAndGlyphs" fill="#111">CD127</text>
<text x="298.7" y="629.7" font-size="10.5" fill="#555">10<tspan font-size="7.5" dy="-4.8">0</tspan></text>
<text x="325.8" y="629.7" font-size="10.5" fill="#555">10<tspan font-size="7.5" dy="-4.8">1</tspan></text>
<text x="352.9" y="629.7" font-size="10.5" fill="#555">10<tspan font-size="7.5" dy="-4.8">2</tspan></text>
<text x="380" y="629.7" font-size="10.5" fill="#555">10<tspan font-size="7.5" dy="-4.8">3</tspan></text>
<text x="401.9" y="629.7" font-size="10.5" fill="#555">10<tspan font-size="7.5" dy="-4.8">4</tspan></text>
<rect x="418.7" y="454.5" width="90.6" height="95.6" fill="#fff" stroke="#555" stroke-width="1.2"/>
<rect x="428.8" y="467.1" width="20.6" height="5.4" fill="#3c4c9e" stroke="#444" stroke-width="0.8"/>
<text x="456.3" y="476.1" font-size="15.5" fill="#333">Day 19</text>
<rect x="428.8" y="489.4" width="20.6" height="5.4" fill="#5a3c94" stroke="#444" stroke-width="0.8"/>
<text x="456.3" y="498.4" font-size="15.5" fill="#333">Day 16</text>
<rect x="428.8" y="512" width="20.6" height="5.4" fill="#b04c9c" stroke="#444" stroke-width="0.8"/>
<text x="456.3" y="521.6" font-size="15.5" fill="#333">Day 13</text>
<rect x="428.8" y="531.9" width="20.6" height="5.4" fill="#111" stroke="#444" stroke-width="0.8"/>
<text x="456.3" y="541.9" font-size="15.5" fill="#333">Isotype</text>
<text x="4" y="680.5" font-weight="bold" font-size="26" fill="#111">C</text>
<path d="M39 692.5V1041.8" stroke="#777" stroke-width="1.4"/>
<path d="M34 701L39 692.5L44 701" fill="none" stroke="#555" stroke-width="1.2"/>
<text transform="translate(40 1128.5) rotate(-90)" text-anchor="middle" font-size="16.2" fill="#333">% NK1.1<tspan font-size="10.5" dy="-6.5" dx="1">+</tspan><tspan dy="6.5" dx="5"> cells</tspan></text>
<path d="M82.5 931.2H400.2M82.5 889.7H400.2M82.5 848.1H400.2M82.5 806.6H400.2M82.5 765.1H400.2M82.5 723.5H400.2M82.5 682H400.2M86 682V935.2M148.8 931.2V935.2M211.7 931.2V935.2M274.5 931.2V935.2M337.4 931.2V935.2M400.2 931.2V935.2" stroke="#a6a6a6" stroke-width="1.25" fill="none"/>
<text transform="translate(74 937.8) scale(0.93 1)" text-anchor="end" font-size="15.6" fill="#333">0</text>
<text transform="translate(74 896.3) scale(0.93 1)" text-anchor="end" font-size="15.6" fill="#333">20</text>
<text transform="translate(74 854.7) scale(0.93 1)" text-anchor="end" font-size="15.6" fill="#333">40</text>
<text transform="translate(74 813.2) scale(0.93 1)" text-anchor="end" font-size="15.6" fill="#333">60</text>
<text transform="translate(74 771.7) scale(0.93 1)" text-anchor="end" font-size="15.6" fill="#333">80</text>
<text transform="translate(74 730.1) scale(0.93 1)" text-anchor="end" font-size="15.6" fill="#333">100</text>
<text transform="translate(74 688.6) scale(0.93 1)" text-anchor="end" font-size="15.6" fill="#333">120</text>
<polyline points="117.4,723.5 180.3,723.5 243.1,723.5 305.9,723.5 368.8,723.5" fill="none" stroke="#111" stroke-width="2.8"/>
<polyline points="117.4,723.5 180.3,723.5 243.1,723.5 305.9,725.6 368.8,725.6" fill="none" stroke="#111" stroke-width="2.8" stroke-dasharray="11 10"/>
<polyline points="117.4,756.8 180.3,744.3 243.1,769.2 305.9,796.2 368.8,746.4" fill="none" stroke="#111" stroke-width="2.8"/>
<polyline points="117.4,868.9 180.3,744.3 243.1,760.9 305.9,765.1 368.8,742.2" fill="none" stroke="#111" stroke-width="2.8" stroke-dasharray="11 10"/>
<polyline points="117.4,885.5 180.3,889.7 243.1,868.9 305.9,875.1 368.8,844" fill="none" stroke="#111" stroke-width="2.8"/>
<polyline points="117.4,891.7 180.3,931.2 243.1,910.4 305.9,885.5 368.8,800.4" fill="none" stroke="#111" stroke-width="2.8" stroke-dasharray="11 10"/>
<polyline points="117.4,914.6 180.3,931.2 243.1,931.2 305.9,931.2 368.8,927" fill="none" stroke="#111" stroke-width="2.8"/>
<polyline points="117.4,931.2 180.3,931.2 243.1,931.2 305.9,885.5 368.8,864.8" fill="none" stroke="#111" stroke-width="2.8" stroke-dasharray="11 10"/>
<rect x="113" y="718.9" width="8.8" height="9.4" fill="none" stroke="#555" stroke-width="1.2"/>
<rect x="175.9" y="718.9" width="8.8" height="9.4" fill="none" stroke="#555" stroke-width="1.2"/>
<rect x="238.7" y="718.9" width="8.8" height="9.4" fill="none" stroke="#555" stroke-width="1.2"/>
<rect x="301.5" y="718.9" width="8.8" height="9.4" fill="none" stroke="#555" stroke-width="1.2"/>
<rect x="364.4" y="718.9" width="8.8" height="9.4" fill="none" stroke="#555" stroke-width="1.2"/>
<path d="M117.4 718.3L122.1 727.5L112.7 727.5Z" fill="#222"/>
<path d="M180.3 718.3L185 727.5L175.6 727.5Z" fill="#222"/>
<path d="M243.1 718.3L247.8 727.5L238.4 727.5Z" fill="#222"/>
<path d="M305.9 720.4L310.6 729.6L301.2 729.6Z" fill="#222"/>
<path d="M368.8 720.4L373.5 729.6L364.1 729.6Z" fill="#222"/>
<path d="M112.6 756.8h9.6M117.4 752v9.6" stroke="#333" stroke-width="1.1"/>
<path d="M175.5 744.3h9.6M180.3 739.5v9.6" stroke="#333" stroke-width="1.1"/>
<path d="M238.3 769.2h9.6M243.1 764.4v9.6" stroke="#333" stroke-width="1.1"/>
<path d="M301.1 796.2h9.6M305.9 791.4v9.6" stroke="#333" stroke-width="1.1"/>
<path d="M364 746.4h9.6M368.8 741.6v9.6" stroke="#333" stroke-width="1.1"/>
<circle cx="117.4" cy="868.9" r="5" fill="#222"/>
<circle cx="180.3" cy="744.3" r="5" fill="#222"/>
<circle cx="243.1" cy="760.9" r="5" fill="#222"/>
<circle cx="305.9" cy="765.1" r="5" fill="#222"/>
<circle cx="368.8" cy="742.2" r="5" fill="#222"/>
<path d="M117.4 880.7L122 890.3L112.8 890.3Z" fill="#fff" stroke="#444" stroke-width="1.1"/>
<path d="M180.3 884.9L184.9 894.5L175.7 894.5Z" fill="#fff" stroke="#444" stroke-width="1.1"/>
<path d="M243.1 864.1L247.7 873.7L238.5 873.7Z" fill="#fff" stroke="#444" stroke-width="1.1"/>
<path d="M305.9 870.3L310.5 879.9L301.3 879.9Z" fill="#fff" stroke="#444" stroke-width="1.1"/>
<path d="M368.8 839.2L373.4 848.8L364.2 848.8Z" fill="#fff" stroke="#444" stroke-width="1.1"/>
<rect x="112.6" y="886.9" width="9.6" height="9.6" fill="#222"/>
<rect x="175.5" y="926.4" width="9.6" height="9.6" fill="#222"/>
<rect x="238.3" y="905.6" width="9.6" height="9.6" fill="#222"/>
<rect x="301.1" y="880.7" width="9.6" height="9.6" fill="#222"/>
<rect x="364" y="795.6" width="9.6" height="9.6" fill="#222"/>
<circle cx="117.4" cy="914.6" r="4.2" fill="none" stroke="#444" stroke-width="1.1"/>
<circle cx="180.3" cy="931.2" r="4.2" fill="none" stroke="#444" stroke-width="1.1"/>
<circle cx="243.1" cy="931.2" r="4.2" fill="none" stroke="#444" stroke-width="1.1"/>
<circle cx="305.9" cy="931.2" r="4.2" fill="none" stroke="#444" stroke-width="1.1"/>
<circle cx="368.8" cy="927" r="4.2" fill="none" stroke="#444" stroke-width="1.1"/>
<path d="M117.4 925.9L122.7 931.2L117.4 936.5L112.1 931.2Z" fill="#222"/>
<path d="M180.3 925.9L185.6 931.2L180.3 936.5L175 931.2Z" fill="#222"/>
<path d="M243.1 925.9L248.4 931.2L243.1 936.5L237.8 931.2Z" fill="#222"/>
<path d="M305.9 880.2L311.2 885.5L305.9 890.8L300.6 885.5Z" fill="#222"/>
<path d="M368.8 859.5L374.1 864.8L368.8 870.1L363.5 864.8Z" fill="#222"/>
<path d="M420.7 716.5h33" stroke="#111" stroke-width="2.8"/>
<rect x="431.8" y="711.9" width="8.8" height="9.4" fill="none" stroke="#555" stroke-width="1.2"/>
<text x="457" y="723.7" font-size="15" fill="#333">NK1.1</text>
<path d="M420.7 742.1H430.7M440.7 742.1H451.7" stroke="#111" stroke-width="2.8"/>
<path d="M436.2 736.9L440.9 746.1L431.5 746.1Z" fill="#222"/>
<text x="457" y="749.4" font-size="15" fill="#333">CD44</text>
<path d="M420.7 767.8h33" stroke="#111" stroke-width="2.8"/>
<path d="M431.4 767.8h9.6M436.2 763v9.6" stroke="#333" stroke-width="1.1"/>
<text x="457" y="775" font-size="15" fill="#333">CD94</text>
<path d="M420.7 793.5H430.7M440.7 793.5H451.7" stroke="#111" stroke-width="2.8"/>
<circle cx="436.2" cy="793.5" r="5" fill="#222"/>
<text x="457" y="800.7" font-size="15" fill="#333">NKG2D</text>
<path d="M420.7 819.1h33" stroke="#111" stroke-width="2.8"/>
<path d="M436.2 814.3L440.8 823.9L431.6 823.9Z" fill="none" stroke="#444" stroke-width="1.1"/>
<text x="457" y="826.3" font-size="15" fill="#333">Ly49</text>
<path d="M420.7 844.8H430.7M440.7 844.8H451.7" stroke="#111" stroke-width="2.8"/>
<rect x="431.4" y="840" width="9.6" height="9.6" fill="#222"/>
<text x="457" y="852" font-size="15" fill="#333">CD43</text>
<path d="M420.7 870.4h33" stroke="#111" stroke-width="2.8"/>
<circle cx="436.2" cy="870.4" r="4.2" fill="none" stroke="#444" stroke-width="1.1"/>
<text x="457" y="877.6" font-size="15" fill="#333">DX5</text>
<path d="M420.7 896H430.7M440.7 896H451.7" stroke="#111" stroke-width="2.8"/>
<path d="M436.2 890.8L441.5 896L436.2 901.3L430.9 896Z" fill="#222"/>
<text x="457" y="903.2" font-size="15" fill="#333">CD11b</text>
<path d="M82.5 1205.8H405M82.5 1167.7H405M82.5 1129.6H405M82.5 1091.6H405M82.5 1053.5H405M82.5 1015.4H405M82.5 977.3H405M86 977.3V1209.8M149.8 1205.8V1209.8M213.6 1205.8V1209.8M277.4 1205.8V1209.8M341.2 1205.8V1209.8M405 1205.8V1209.8" stroke="#a6a6a6" stroke-width="1.25" fill="none"/>
<text transform="translate(74 1212.4) scale(0.93 1)" text-anchor="end" font-size="15.6" fill="#333">0</text>
<text transform="translate(74 1174.3) scale(0.93 1)" text-anchor="end" font-size="15.6" fill="#333">20</text>
<text transform="translate(74 1136.2) scale(0.93 1)" text-anchor="end" font-size="15.6" fill="#333">40</text>
<text transform="translate(74 1098.2) scale(0.93 1)" text-anchor="end" font-size="15.6" fill="#333">60</text>
<text transform="translate(74 1060.1) scale(0.93 1)" text-anchor="end" font-size="15.6" fill="#333">80</text>
<text transform="translate(74 1022) scale(0.93 1)" text-anchor="end" font-size="15.6" fill="#333">100</text>
<text transform="translate(74 983.9) scale(0.93 1)" text-anchor="end" font-size="15.6" fill="#333">120</text>
<polyline points="117.9,1015.4 181.7,1015.4 245.5,1015.4 309.3,1015.4 373.1,1015.4" fill="none" stroke="#111" stroke-width="2.8"/>
<polyline points="117.9,1061.1 181.7,1026.8 245.5,1038.2 309.3,1040.2 373.1,1019.2" fill="none" stroke="#111" stroke-width="2.8" stroke-dasharray="11 10"/>
<polyline points="117.9,1082 181.7,1066.8 245.5,1070.6 309.3,1097.3 373.1,1049.7" fill="none" stroke="#111" stroke-width="2.8"/>
<polyline points="117.9,1173.4 181.7,1064.9 245.5,1051.6 309.3,1074.4 373.1,1068.7" fill="none" stroke="#111" stroke-width="2.8" stroke-dasharray="11 10"/>
<polyline points="117.9,1194.4 181.7,1152.5 245.5,1144.9 309.3,1160.1 373.1,1101.1" fill="none" stroke="#111" stroke-width="2.8"/>
<rect x="113.5" y="1010.8" width="8.8" height="9.4" fill="none" stroke="#555" stroke-width="1.2"/>
<rect x="177.3" y="1010.8" width="8.8" height="9.4" fill="none" stroke="#555" stroke-width="1.2"/>
<rect x="241.1" y="1010.8" width="8.8" height="9.4" fill="none" stroke="#555" stroke-width="1.2"/>
<rect x="304.9" y="1010.8" width="8.8" height="9.4" fill="none" stroke="#555" stroke-width="1.2"/>
<rect x="368.7" y="1010.8" width="8.8" height="9.4" fill="none" stroke="#555" stroke-width="1.2"/>
<path d="M117.9 1055.9L122.6 1065.1L113.2 1065.1Z" fill="#222"/>
<path d="M181.7 1021.6L186.4 1030.8L177 1030.8Z" fill="#222"/>
<path d="M245.5 1033L250.2 1042.2L240.8 1042.2Z" fill="#222"/>
<path d="M309.3 1035L314 1044.2L304.6 1044.2Z" fill="#222"/>
<path d="M373.1 1014L377.8 1023.2L368.4 1023.2Z" fill="#222"/>
<path d="M113.1 1082h9.6M117.9 1077.2v9.6" stroke="#333" stroke-width="1.1"/>
<path d="M176.9 1066.8h9.6M181.7 1062v9.6" stroke="#333" stroke-width="1.1"/>
<path d="M240.7 1070.6h9.6M245.5 1065.8v9.6" stroke="#333" stroke-width="1.1"/>
<path d="M304.5 1097.3h9.6M309.3 1092.5v9.6" stroke="#333" stroke-width="1.1"/>
<path d="M368.3 1049.7h9.6M373.1 1044.9v9.6" stroke="#333" stroke-width="1.1"/>
<circle cx="117.9" cy="1173.4" r="5" fill="#222"/>
<circle cx="181.7" cy="1064.9" r="5" fill="#222"/>
<circle cx="245.5" cy="1051.6" r="5" fill="#222"/>
<circle cx="309.3" cy="1074.4" r="5" fill="#222"/>
<circle cx="373.1" cy="1068.7" r="5" fill="#222"/>
<path d="M117.9 1189.6L122.5 1199.2L113.3 1199.2Z" fill="#fff" stroke="#444" stroke-width="1.1"/>
<path d="M181.7 1147.7L186.3 1157.3L177.1 1157.3Z" fill="#fff" stroke="#444" stroke-width="1.1"/>
<path d="M245.5 1140.1L250.1 1149.7L240.9 1149.7Z" fill="#fff" stroke="#444" stroke-width="1.1"/>
<path d="M309.3 1155.3L313.9 1164.9L304.7 1164.9Z" fill="#fff" stroke="#444" stroke-width="1.1"/>
<path d="M373.1 1096.3L377.7 1105.9L368.5 1105.9Z" fill="#fff" stroke="#444" stroke-width="1.1"/>
<path d="M425.2 1054h33" stroke="#111" stroke-width="2.8"/>
<rect x="437.4" y="1049.4" width="8.8" height="9.4" fill="none" stroke="#555" stroke-width="1.2"/>
<text x="462.1" y="1061.6" font-size="15" fill="#333">NK1.1</text>
<path d="M425.2 1079.7H436.3M446.3 1079.7H456.2" stroke="#111" stroke-width="2.8"/>
<path d="M441.8 1074.5L446.5 1083.7L437.1 1083.7Z" fill="#222"/>
<text x="462.1" y="1087.3" font-size="15" fill="#333">CD122</text>
<path d="M425.2 1105.4h33" stroke="#111" stroke-width="2.8"/>
<path d="M437 1105.4h9.6M441.8 1100.6v9.6" stroke="#333" stroke-width="1.1"/>
<text x="462.1" y="1113" font-size="15" fill="#333">CD117</text>
<path d="M425.2 1131.2H436.3M446.3 1131.2H456.2" stroke="#111" stroke-width="2.8"/>
<circle cx="441.8" cy="1131.2" r="5" fill="#222"/>
<text x="462.1" y="1138.8" font-size="15" fill="#333">CD25</text>
<path d="M425.2 1156.9h33" stroke="#111" stroke-width="2.8"/>
<path d="M441.8 1152.1L446.4 1161.7L437.2 1161.7Z" fill="none" stroke="#444" stroke-width="1.1"/>
<text x="462.1" y="1164.5" font-size="15" fill="#333">CD127</text>
<text transform="translate(117.9 1234.8) scale(0.92 1)" text-anchor="middle" font-size="15.8" fill="#333">7</text>
<text transform="translate(181.7 1234.8) scale(0.92 1)" text-anchor="middle" font-size="15.8" fill="#333">10</text>
<text transform="translate(245.5 1234.8) scale(0.92 1)" text-anchor="middle" font-size="15.8" fill="#333">13</text>
<text transform="translate(309.3 1234.8) scale(0.92 1)" text-anchor="middle" font-size="15.8" fill="#333">16</text>
<text transform="translate(373.1 1234.8) scale(0.92 1)" text-anchor="middle" font-size="15.8" fill="#333">19</text>
<text x="216" y="1259.7" text-anchor="middle" font-size="16.3" textLength="36" lengthAdjust="spacingAndGlyphs" fill="#333">Days</text>
</svg></body></html>
